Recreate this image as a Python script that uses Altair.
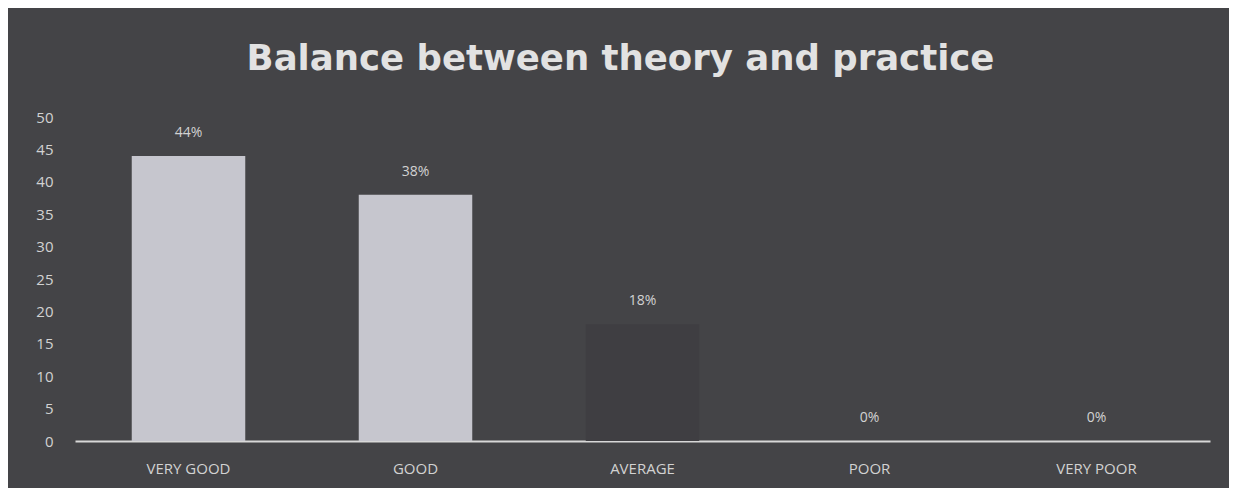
import altair as alt
import pandas as pd

categories = ["VERY GOOD", "GOOD", "AVERAGE", "POOR", "VERY POOR"]
values = [44, 38, 18, 0, 0]
labels = ["44%", "38%", "18%", "0%", "0%"]
bar_colors = ["#c6c6ce", "#c6c6ce", "#3f3e42", "#c6c6ce", "#c6c6ce"]
y_ticks = [0, 5, 10, 15, 20, 25, 30, 35, 40, 45, 50]

df = pd.DataFrame({"cat": categories, "val": values, "lab": labels, "col": bar_colors})

x = alt.X("cat:N", sort=categories, title=None,
          scale=alt.Scale(paddingInner=0.5, paddingOuter=0.25),
          axis=alt.Axis(labelAngle=0, labelColor="#d2d2d2", labelFontSize=15,
                        labelFont="Open Sans", ticks=False, domainColor="#d8d8d8",
                        domainWidth=2, labelPadding=20))
y = alt.Y("val:Q", title=None,
          scale=alt.Scale(domain=[0, 50], nice=False),
          axis=alt.Axis(values=y_ticks, labelColor="#d2d2d2", labelFontSize=15,
                        labelFont="Open Sans", ticks=False, domain=False, grid=False,
                        labelOverlap=False, labelPadding=22))

bars = alt.Chart(df).mark_bar().encode(x=x, y=y, color=alt.Color("col:N", scale=None))
text = alt.Chart(df).mark_text(dy=-23, baseline="middle", color="#d2d2d2",
                               fontSize=14, font="Open Sans").encode(
    x=x, y=y, text="lab:N")

chart = (bars + text).properties(
    width=1135, height=324,
    title=alt.TitleParams("Balance between theory and practice", font="DejaVu Sans",
                          fontSize=35.5, fontWeight="bold", color="#e2e2e2",
                          anchor="middle", dx=-22, offset=33),
    background="#444447",
    padding={"left": 67, "top": 109, "right": 19, "bottom": 47},
    autosize=alt.AutoSizeParams(type="none"),
).configure_view(stroke=None)

chart.save("out.html", embed_options={"renderer": "svg", "actions": False})
